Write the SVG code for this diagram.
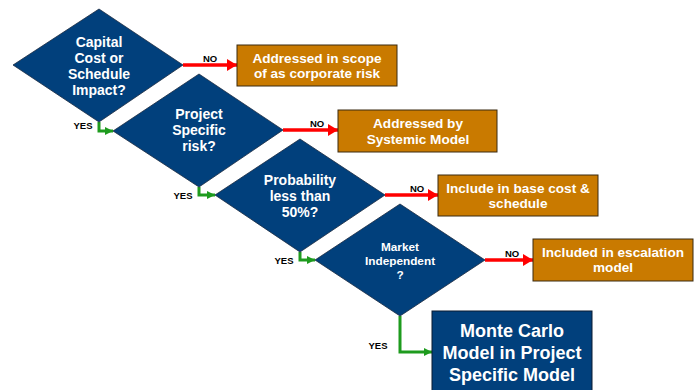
<svg xmlns="http://www.w3.org/2000/svg" width="697" height="390" viewBox="0 0 697 390">
  <style>
    .decision { fill: #01407C; stroke: #1a2a40; stroke-width: 0.8; }
    .outcome { fill: #C97A00; stroke: #3a2a10; stroke-width: 1; }
    .final { fill: #01407C; stroke: #0a1a30; stroke-width: 1; }
    .wt { fill: #ffffff; font-family: "Liberation Sans", Arial, sans-serif; font-weight: bold; text-anchor: middle; }
    .lbl { fill: #000000; font-family: "Liberation Sans", Arial, sans-serif; font-weight: bold; font-size: 9.5px; text-anchor: middle; }
    .no { stroke: #FF0000; stroke-width: 3.5; fill: none; }
    .yes { stroke: #1E9B1E; stroke-width: 3; fill: none; }
  </style>
  <defs>
    <marker id="redHead" markerWidth="10" markerHeight="12" refX="10" refY="6" orient="auto" markerUnits="userSpaceOnUse">
      <path d="M0,0 L10,6 L0,12 Z" fill="#FF0000"/>
    </marker>
    <marker id="greenHead" markerWidth="8" markerHeight="8" refX="8" refY="4" orient="auto" markerUnits="userSpaceOnUse">
      <path d="M0,0 L8,4 L0,8 Z" fill="#1E9B1E"/>
    </marker>
  </defs>

  <rect width="697" height="390" fill="#ffffff"/>

  <!-- connectors -->
  <g id="connectors">
    <line class="no" x1="183" y1="65" x2="237" y2="65" marker-end="url(#redHead)"/>
    <text class="lbl" x="210" y="62">NO</text>
    <line class="no" x1="283" y1="130" x2="338" y2="130" marker-end="url(#redHead)"/>
    <text class="lbl" x="317" y="127">NO</text>
    <line class="no" x1="385" y1="195" x2="438" y2="195" marker-end="url(#redHead)"/>
    <text class="lbl" x="417" y="192">NO</text>
    <line class="no" x1="485" y1="260" x2="533" y2="260" marker-end="url(#redHead)"/>
    <text class="lbl" x="512" y="257">NO</text>

    <polyline class="yes" points="99,122 99,131 113,131" marker-end="url(#greenHead)"/>
    <text class="lbl" x="83" y="129">YES</text>
    <polyline class="yes" points="199,187 199,195 215,195" marker-end="url(#greenHead)"/>
    <text class="lbl" x="183" y="199">YES</text>
    <polyline class="yes" points="300,252 300,260 315,260" marker-end="url(#greenHead)"/>
    <text class="lbl" x="284" y="264">YES</text>
    <polyline class="yes" points="400,316 400,352 432,352" marker-end="url(#greenHead)"/>
    <text class="lbl" x="378" y="349">YES</text>
  </g>

  <!-- decisions -->
  <g id="d-capital">
    <polygon class="decision" points="13,65 99,9 183,65 99,122"/>
    <text class="wt" font-size="14" x="99" y="47">Capital</text>
    <text class="wt" font-size="14" x="99" y="63">Cost or</text>
    <text class="wt" font-size="14" x="99" y="79">Schedule</text>
    <text class="wt" font-size="14" x="99" y="95">Impact?</text>
  </g>
  <g id="d-project">
    <polygon class="decision" points="113,131 199,74 283,130 199,187"/>
    <text class="wt" font-size="14" x="199" y="119">Project</text>
    <text class="wt" font-size="14" x="199" y="135">Specific</text>
    <text class="wt" font-size="14" x="199" y="151">risk?</text>
  </g>
  <g id="d-probability">
    <polygon class="decision" points="215,195 300,139 385,195 300,252"/>
    <text class="wt" font-size="14" x="300" y="185">Probability</text>
    <text class="wt" font-size="14" x="300" y="201">less than</text>
    <text class="wt" font-size="14" x="300" y="217">50%?</text>
  </g>
  <g id="d-market">
    <polygon class="decision" points="315,260 400,204 485,260 400,316"/>
    <text class="wt" font-size="11.8" x="400" y="251">Market</text>
    <text class="wt" font-size="11.8" x="400" y="265">Independent</text>
    <text class="wt" font-size="11.8" x="400" y="279">?</text>
  </g>

  <!-- outcomes -->
  <g id="o-corporate">
    <rect class="outcome" x="237" y="45" width="160" height="41"/>
    <text class="wt" font-size="13.6" x="317" y="63">Addressed in scope</text>
    <text class="wt" font-size="13.6" x="317" y="78">of as corporate risk</text>
  </g>
  <g id="o-systemic">
    <rect class="outcome" x="338" y="110" width="159" height="42"/>
    <text class="wt" font-size="13.6" x="418" y="128">Addressed by</text>
    <text class="wt" font-size="13.6" x="418" y="144">Systemic Model</text>
  </g>
  <g id="o-base">
    <rect class="outcome" x="438" y="175" width="160" height="41"/>
    <text class="wt" font-size="13.6" x="518" y="193">Include in base cost &amp;</text>
    <text class="wt" font-size="13.6" x="518" y="208">schedule</text>
  </g>
  <g id="o-escalation">
    <rect class="outcome" x="533" y="239" width="160" height="42"/>
    <text class="wt" font-size="13.6" x="613" y="257">Included in escalation</text>
    <text class="wt" font-size="13.6" x="613" y="272">model</text>
  </g>
  <g id="o-montecarlo">
    <rect class="final" x="432" y="311" width="160" height="84"/>
    <text class="wt" font-size="18" x="512" y="337">Monte Carlo</text>
    <text class="wt" font-size="18" x="512" y="359">Model in Project</text>
    <text class="wt" font-size="18" x="512" y="381">Specific Model</text>
  </g>
</svg>
